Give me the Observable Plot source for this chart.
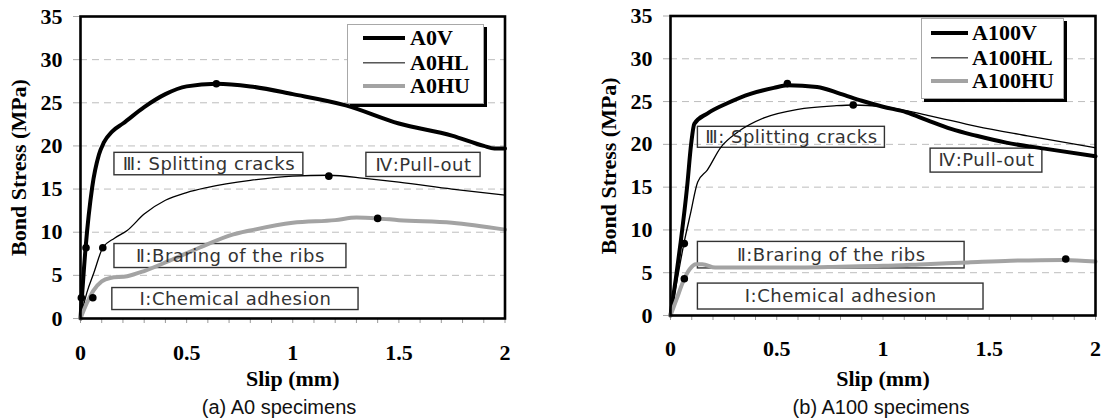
<!DOCTYPE html>
<html><head><meta charset="utf-8">
<script src="https://cdn.jsdelivr.net/npm/d3@7"></script>
<script src="https://cdn.jsdelivr.net/npm/@observablehq/plot@0.6"></script>
<style>
body{margin:0;background:#fff;}
#wrap{position:relative;width:1105px;height:418px;overflow:hidden;background:#fff}
.panel{position:absolute;top:0}
.caption{position:absolute;top:395px;font-family:"Liberation Sans",Arial,sans-serif;font-size:20px;line-height:24px;color:#111;transform:translateX(-50%);white-space:nowrap}
.legend{position:absolute;border:1px solid #a8a8a8;box-shadow:3px 3px 0 #000;background:#fff;font-family:"Liberation Serif","Times New Roman",serif;font-weight:bold;font-size:22px;color:#000}
.legend .sw{position:absolute;transform:translateY(-50%)}
.legend .lb{position:absolute;transform:translateY(-50%);line-height:22px;white-space:nowrap}
</style>
</head><body>
<div id="wrap"></div>
<script>
// ---------- data ----------
const slipTicks = [0, 0.5, 1, 1.5, 2];
const stressTicks = [0, 5, 10, 15, 20, 25, 30, 35];
const gridTicks = [5, 10, 15, 20, 25, 30];
const minorSlip = [0,0.1,0.2,0.3,0.4,0.5,0.6,0.7,0.8,0.9,1,1.1,1.2,1.3,1.4,1.5,1.6,1.7,1.8,1.9,2];

// (a) A0 specimens
const a0vSlip   = [0, 0.024, 0.055, 0.087, 0.11, 0.15, 0.2, 0.3, 0.4, 0.5, 0.64, 0.8, 1.0, 1.25, 1.5, 1.75, 1.9, 1.95, 2.0];
const a0vStress = [0, 8.2, 15.2, 19.0, 20.4, 21.7, 22.6, 24.5, 26.0, 26.9, 27.2, 26.9, 26.0, 24.7, 22.6, 21.2, 20.0, 19.7, 19.7];
const a0hlSlip   = [0, 0.03, 0.063, 0.105, 0.16, 0.22, 0.3, 0.4, 0.5, 0.6, 0.8, 1.0, 1.17, 1.35, 1.5, 1.75, 2.0];
const a0hlStress = [0, 3.0, 5.3, 8.2, 9.3, 10.2, 12.1, 13.7, 14.6, 15.2, 16.0, 16.5, 16.6, 16.2, 15.8, 15.0, 14.3];
const a0huSlip   = [0, 0.03, 0.06, 0.1, 0.14, 0.22, 0.3, 0.42, 0.56, 0.72, 0.8, 1.0, 1.2, 1.3, 1.4, 1.5, 1.75, 2.0];
const a0huStress = [0, 1.8, 3.2, 4.3, 4.7, 4.9, 5.5, 6.7, 8.2, 9.75, 10.2, 11.1, 11.4, 11.7, 11.6, 11.4, 11.1, 10.3];
const a0MarkSlip   = [0.64, 1.17, 1.4, 0.105, 0.026, 0.004, 0.058];
const a0MarkStress = [27.2, 16.5, 11.6, 8.2, 8.2, 2.4, 2.4];

// (b) A100 specimens
const a100vSlip   = [0, 0.025, 0.047, 0.078, 0.097, 0.112, 0.173, 0.267, 0.376, 0.486, 0.55, 0.69, 0.8, 0.9, 1.0, 1.11, 1.21, 1.32, 1.44, 1.58, 1.76, 2.0];
const a100vStress = [0, 4.3, 8.4, 15.0, 20.0, 22.4, 23.6, 24.8, 25.9, 26.6, 26.9, 26.7, 25.9, 25.1, 24.4, 23.75, 22.8, 21.8, 21.0, 20.2, 19.5, 18.6];
const a100hlSlip   = [0, 0.03, 0.063, 0.094, 0.128, 0.173, 0.235, 0.32, 0.44, 0.6, 0.77, 0.86, 1.0, 1.21, 1.44, 1.68, 2.0];
const a100hlStress = [0, 4.0, 8.4, 11.9, 15.6, 17.0, 19.6, 21.5, 23.1, 24.1, 24.5, 24.6, 24.4, 23.4, 22.1, 21.0, 19.6];
const a100huSlip   = [0, 0.03, 0.06, 0.09, 0.12, 0.15, 0.21, 0.3, 0.5, 0.8, 1.0, 1.2, 1.4, 1.6, 1.85, 2.0];
const a100huStress = [0, 2.0, 4.0, 5.4, 6.0, 6.0, 5.6, 5.6, 5.6, 5.7, 5.8, 6.0, 6.2, 6.4, 6.5, 6.3];
const a100MarkSlip   = [0.55, 0.86, 1.86, 0.065, 0.065];
const a100MarkStress = [27.1, 24.6, 6.6, 8.4, 4.3];

// series names (legend order)
const a0Names = ["A0V", "A0HL", "A0HU"];
const a100Names = ["A100V", "A100HL", "A100HU"];

// stage annotation boxes (data units: slip, stress)
const stageLabels = ["Ⅲ: Splitting cracks", "Ⅳ:Pull-out", "Ⅱ:Braring of the ribs", "Ⅰ:Chemical adhesion"];
const a0BoxX1 = [0.16, 1.347, 0.16, 0.15];
const a0BoxX2 = [1.05, 1.885, 1.253, 1.31];
const a0BoxY1 = [16.6, 16.4, 5.85, 0.98];
const a0BoxY2 = [19.2, 19.2, 8.63, 3.53];
const a100BoxX1 = [0.129, 1.224, 0.129, 0.129];
const a100BoxX2 = [1.009, 1.75, 1.384, 1.473];
const a100BoxY1 = [19.6, 16.7, 5.5, 0.7];
const a100BoxY2 = [22.05, 19.5, 8.6, 3.73];

// ---------- build ----------
const styles = [
  {stroke: "#000", width: 4},
  {stroke: "#000", width: 1.3},
  {stroke: "#a3a3a3", width: 4}
];
const zip = (xs, ys) => xs.map((x, i) => ({slip: x, stress: ys[i]}));

function makePanel(cfg) {
  const serif = "'Liberation Serif','Times New Roman',serif";
  const boxes = stageLabels.map((t, i) => ({text: t, x1: cfg.bx1[i], x2: cfg.bx2[i], y1: cfg.by1[i], y2: cfg.by2[i]}));
  const marks = [
    Plot.gridY(gridTicks, {stroke: "#bdbdbd", strokeOpacity: 1, strokeDasharray: "7,5"}),
    Plot.axisY(stressTicks, {tickSize: 7, tickPadding: 11, stroke: "#aaa", fill: "#000", label: null, tickFormat: d => String(d), fontSize: 22, fontWeight: "bold"}),
    Plot.axisX(minorSlip, {tickSize: 5, stroke: "#999", tickFormat: () => "", label: null}),
    Plot.axisX(slipTicks, {tickSize: 0, tickPadding: cfg.xPad, tickFormat: d => String(d), label: null, fontSize: 22, fontWeight: "bold"}),
    Plot.rect(boxes, {x1: "x1", x2: "x2", y1: "y1", y2: "y2", fill: "none", stroke: "#333", strokeWidth: 1.4}),
  ];
  cfg.series.forEach((s, i) => {
    marks.push(Plot.line(zip(s.x, s.y), {x: "slip", y: "stress", stroke: styles[i].stroke, strokeWidth: styles[i].width, curve: "monotone-x", strokeLinejoin: "round", strokeLinecap: "round"}));
  });
  marks.push(
    Plot.text(boxes, {x: d => (d.x1 + d.x2) / 2, y: d => (d.y1 + d.y2) / 2, text: "text", fontFamily: "'DejaVu Sans',sans-serif", fontSize: 18, fontWeight: "normal", fill: "#333"}),
    Plot.dot(zip(cfg.markX, cfg.markY), {x: "slip", y: "stress", r: 3.8, fill: "#000", stroke: "none"}),
    Plot.frame({stroke: "#000", strokeWidth: 2.6}),
    Plot.text(["Bond Stress (MPa)"], {text: d => d, frameAnchor: "left", textAnchor: "middle", lineAnchor: "middle", dx: -62, rotate: -90, fontSize: 22, fontWeight: "bold"}),
    Plot.text(["Slip (mm)"], {text: d => d, frameAnchor: "bottom", textAnchor: "middle", lineAnchor: "middle", dy: cfg.xTitleDy, fontSize: 22, fontWeight: "bold"})
  );
  const svg = Plot.plot({
    width: cfg.width, height: 390,
    marginLeft: cfg.ml, marginRight: cfg.mr, marginTop: cfg.mt, marginBottom: cfg.mb,
    x: {domain: [0, 2]},
    y: {domain: [0, 35]},
    style: {fontFamily: serif, fontWeight: "bold", fontSize: "22px", color: "#000", background: "transparent", overflow: "visible"},
    marks
  });
  // enforce text styling
  const sel = d3.select(svg);
  sel.selectAll("text").each(function() {
    const t = this.textContent;
    const s = d3.select(this);
    if (stageLabels.includes(t)) {
      s.style("font-size", "18px").style("letter-spacing", "0.5px").style("font-weight", "normal");
    } else if (/^[0-9.]+$/.test(t)) {
      s.style("font-size", "22px").style("font-weight", "bold");
    }
  });
  return svg;
}

function addLegend(div, names, box) {
  const lg = document.createElement("div");
  lg.className = "legend";
  Object.assign(lg.style, {left: box.left + "px", top: box.top + "px", width: box.w + "px", height: box.h + "px"});
  names.forEach((n, i) => {
    const sw = document.createElement("div");
    sw.className = "sw";
    Object.assign(sw.style, {left: box.lx + "px", top: box.rows[i] + "px", width: box.lw + "px", height: styles[i].width + "px", background: styles[i].stroke});
    const lb = document.createElement("div");
    lb.className = "lb";
    lb.textContent = n;
    Object.assign(lb.style, {left: box.tx + "px", top: box.rows[i] + "px"});
    lg.appendChild(sw); lg.appendChild(lb);
  });
  div.appendChild(lg);
}

const wrap = document.getElementById("wrap");

// left panel
const left = document.createElement("div");
left.className = "panel"; left.style.left = "0px";
left.appendChild(makePanel({
  width: 530, ml: 80, mr: 25.5, mt: 16, mb: 72, xPad: 26, xTitleDy: 60,
  series: [{x: a0vSlip, y: a0vStress}, {x: a0hlSlip, y: a0hlStress}, {x: a0huSlip, y: a0huStress}],
  markX: a0MarkSlip, markY: a0MarkStress,
  bx1: a0BoxX1, bx2: a0BoxX2, by1: a0BoxY1, by2: a0BoxY2
}));
addLegend(left, a0Names, {left: 347, top: 24, w: 135, h: 78, lx: 15, lw: 42, tx: 62, rows: [13, 38, 61]});
wrap.appendChild(left);

// right panel
const right = document.createElement("div");
right.className = "panel"; right.style.left = "560px";
right.appendChild(makePanel({
  width: 545, ml: 110, mr: 10, mt: 15.5, mb: 75, xPad: 25, xTitleDy: 63,
  series: [{x: a100vSlip, y: a100vStress}, {x: a100hlSlip, y: a100hlStress}, {x: a100huSlip, y: a100huStress}],
  markX: a100MarkSlip, markY: a100MarkStress,
  bx1: a100BoxX1, bx2: a100BoxX2, by1: a100BoxY1, by2: a100BoxY2
}));
addLegend(right, a100Names, {left: 361, top: 18, w: 141, h: 79, lx: 9, lw: 37, tx: 50, rows: [14, 39, 62]});
wrap.appendChild(right);

// captions
[["(a) A0 specimens", 279], ["(b) A100 specimens", 881]].forEach(([t, cx]) => {
  const c = document.createElement("div");
  c.className = "caption"; c.textContent = t; c.style.left = cx + "px";
  wrap.appendChild(c);
});
</script>
</body></html>
